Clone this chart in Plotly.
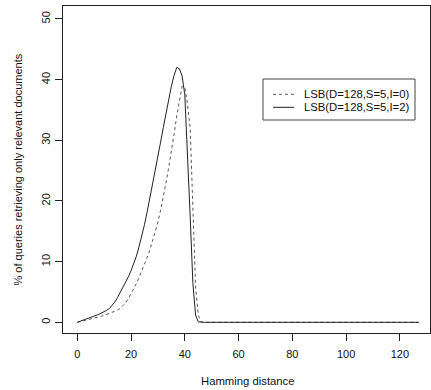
import plotly.graph_objects as go

# Hamming distance 0..127
hamming = list(range(128))

series_names = ["LSB(D=128,S=5,I=0)", "LSB(D=128,S=5,I=2)"]

# LSB(D=128,S=5,I=0) - dashed
lsb_i0_head = [0.0, 0.1, 0.2, 0.3, 0.4, 0.5, 0.6, 0.7, 0.85, 1.0,
               1.15, 1.3, 1.45, 1.6, 1.8, 2.0, 2.3, 2.7, 3.2, 3.9,
               4.7, 5.5, 6.4, 7.4, 8.4, 9.5, 10.7, 11.9, 13.3, 14.8,
               16.5, 18.5, 20.5, 23.0, 25.5, 28.0, 31.0, 34.0, 36.5, 38.9,
               38.7, 36.0, 32.0, 19.0, 6.0, 1.2, 0.1, 0.0]
lsb_i0 = lsb_i0_head + [0.0] * (128 - len(lsb_i0_head))

# LSB(D=128,S=5,I=2) - solid
lsb_i2_head = [0.0, 0.2, 0.35, 0.5, 0.65, 0.85, 1.05, 1.15, 1.3, 1.5,
               1.75, 2.0, 2.3, 2.75, 3.35, 4.1, 4.9, 5.7, 6.6, 7.5,
               8.5, 9.6, 10.9, 12.5, 14.2, 16.1, 18.2, 20.4, 22.7, 25.0,
               27.3, 29.7, 32.1, 34.5, 36.8, 38.9, 40.7, 42.0, 41.8, 40.6,
               37.5, 26.0, 17.5, 6.5, 1.2, 0.1, 0.0, 0.0]
lsb_i2 = lsb_i2_head + [0.0] * (128 - len(lsb_i2_head))

x_ticks = [0, 20, 40, 60, 80, 100, 120]
y_ticks = [0, 10, 20, 30, 40, 50]

FONT = "Liberation Sans, Arial, Helvetica, sans-serif"
DASH_COLOR = "#555555"
SOLID_COLOR = "#222222"

# plot area geometry in pixels
L, R_, T, B = 63, 430, 6, 333
W, H = R_ - L, B - T


def px(xp):
    return (xp - L) / W


def py(yp):
    return (B - yp) / H


fig = go.Figure()
fig.add_trace(go.Scatter(
    x=hamming, y=lsb_i0, mode="lines", name=series_names[0],
    line=dict(color=DASH_COLOR, width=1, dash="3px,3px"), showlegend=False,
))
fig.add_trace(go.Scatter(
    x=hamming, y=lsb_i2, mode="lines", name=series_names[1],
    line=dict(color=SOLID_COLOR, width=1), showlegend=False,
))

# R-style legend box
shapes = [
    dict(type="rect", xref="paper", yref="paper",
         x0=px(263), x1=px(415), y0=py(120), y1=py(79),
         line=dict(color="#444444", width=1), fillcolor="white", layer="above"),
    dict(type="line", xref="paper", yref="paper",
         x0=px(273), x1=px(294), y0=py(94.3), y1=py(94.3),
         line=dict(color=DASH_COLOR, width=1, dash="3px,3px"), layer="above"),
    dict(type="line", xref="paper", yref="paper",
         x0=px(273), x1=px(294), y0=py(107.3), y1=py(107.3),
         line=dict(color=SOLID_COLOR, width=1), layer="above"),
]

annotations = [
    dict(text=series_names[0], xref="paper", yref="paper",
         x=px(302), y=py(94.3), xanchor="left", yanchor="middle",
         showarrow=False, font=dict(family=FONT, size=11.3, color="#111111")),
    dict(text=series_names[1], xref="paper", yref="paper",
         x=px(302), y=py(107.3), xanchor="left", yanchor="middle",
         showarrow=False, font=dict(family=FONT, size=11.3, color="#111111")),
    dict(text="Hamming distance", xref="paper", yref="paper",
         x=0.5, y=0, xanchor="center", yanchor="middle",
         yshift=-48, xshift=1, showarrow=False,
         font=dict(family=FONT, size=11.3)),
    dict(text="% of queries retrieving only relevant documents",
         xref="paper", yref="paper", x=0, y=0.5,
         xanchor="center", yanchor="middle", textangle=-90,
         xshift=-46, yshift=0, showarrow=False,
         font=dict(family=FONT, size=11)),
]

fig.update_layout(
    width=431, height=390,
    margin=dict(l=L, r=431 - R_, t=T, b=390 - B),
    paper_bgcolor="white", plot_bgcolor="white",
    font=dict(family=FONT, size=11, color="#111111"),
    showlegend=False,
    xaxis=dict(
        range=[-5.3, 131.2], tickvals=x_ticks, ticktext=[str(v) for v in x_ticks],
        showgrid=False, zeroline=False, showline=True, linecolor="#222222",
        linewidth=1, mirror=True, ticks="outside", ticklen=7, tickcolor="#222222",
        tickfont=dict(family=FONT, size=11), ticklabelstandoff=4,
    ),
    yaxis=dict(
        range=[-1.76, 52.14], tickvals=y_ticks, ticktext=[str(v) for v in y_ticks],
        showgrid=False, zeroline=False, showline=True, linecolor="#222222",
        linewidth=1, mirror=True, ticks="outside", ticklen=7, tickcolor="#222222",
        tickangle=-90, tickfont=dict(family=FONT, size=11), ticklabelstandoff=1,
    ),
    shapes=shapes,
    annotations=annotations,
)

fig.write_html("out.html", config={"displayModeBar": False},
               post_script="document.body.style.margin='0';")
